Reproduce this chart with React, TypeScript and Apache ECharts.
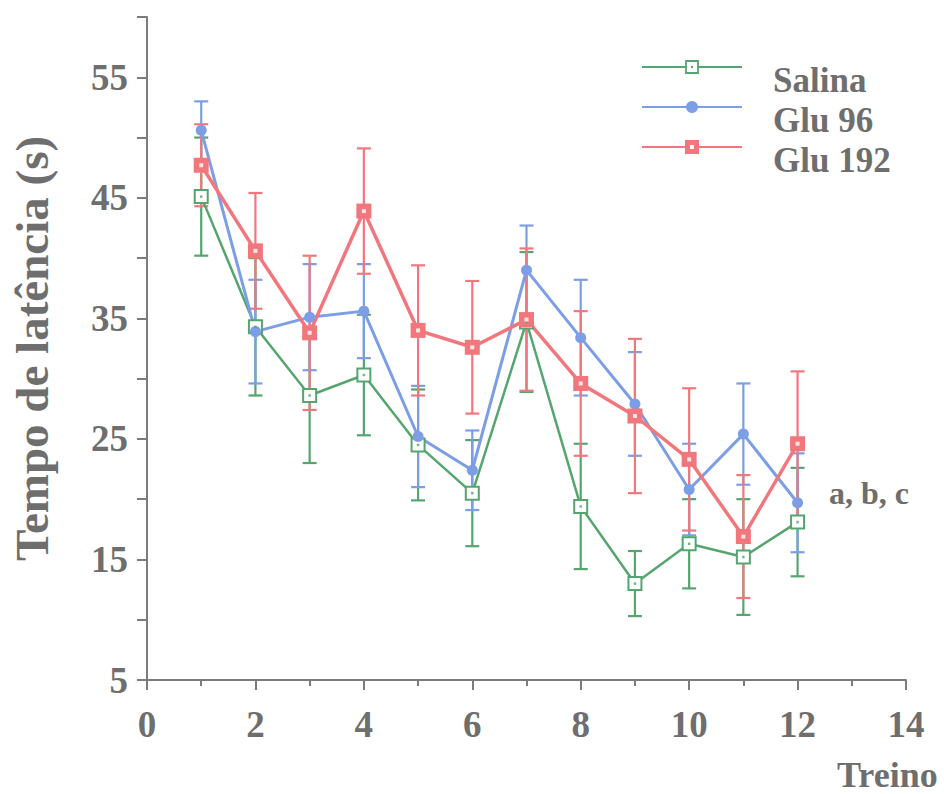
import React, { useEffect, useRef } from "react";
import * as echarts from "echarts";

const trials = [1, 2, 3, 4, 5, 6, 7, 8, 9, 10, 11, 12];
const seriesNames = ["Salina", "Glu 96", "Glu 192"];
const salinaMean = [45.1, 34.3, 28.6, 30.3, 24.5, 20.5, 34.7, 19.4, 13.0, 16.3, 15.2, 18.1];
const salinaErr = [4.9, 5.7, 5.6, 5.0, 4.6, 4.4, 5.8, 5.2, 2.7, 3.7, 4.8, 4.5];
const glu96Mean = [50.6, 33.9, 35.1, 35.6, 25.2, 22.4, 39.0, 33.4, 27.9, 20.8, 25.4, 19.7];
const glu96Err = [2.4, 4.3, 4.4, 3.9, 4.2, 3.3, 3.7, 4.8, 4.3, 3.8, 4.2, 4.1];
const glu192Mean = [47.7, 40.6, 33.8, 43.9, 34.0, 32.6, 34.9, 29.6, 26.9, 23.3, 16.9, 24.6];
const glu192Err = [3.4, 4.8, 6.4, 5.2, 5.4, 5.5, 5.9, 6.0, 6.4, 5.9, 5.1, 6.0];
const xTickLabels = ["0", "2", "4", "6", "8", "10", "12", "14"];
const yTickLabels = ["5", "15", "25", "35", "45", "55"];

const GREEN = "#55a56e";
const BLUE = "#7b9ee6";
const RED = "#f2777d";
const TEXT = "#6e6e6e";
const AXIS = "#7c7c7c";
const FONT = '"Liberation Serif", "Times New Roman", serif';

function errorSeries(name: string, means: number[], errs: number[], color: string) {
  return {
    type: "custom",
    name: name + " err",
    data: trials.map((t, i) => [t, means[i], means[i] - errs[i], means[i] + errs[i]]),
    encode: { x: 0, y: [1, 2, 3] },
    renderItem: (params: any, api: any) => {
      const x = api.value(0);
      const lo = api.coord([x, api.value(2)]);
      const hi = api.coord([x, api.value(3)]);
      const w = 7;
      const style = { stroke: color, lineWidth: 2.2 };
      return {
        type: "group",
        children: [
          { type: "line", shape: { x1: lo[0], y1: lo[1], x2: hi[0], y2: hi[1] }, style },
          { type: "line", shape: { x1: lo[0] - w, y1: lo[1], x2: lo[0] + w, y2: lo[1] }, style },
          { type: "line", shape: { x1: hi[0] - w, y1: hi[1], x2: hi[0] + w, y2: hi[1] }, style },
        ],
      };
    },
    z: 2,
  };
}

function lineSeries(name: string, means: number[], color: string, symbol: string, size: number, lw: number, bw: number) {
  return {
    type: "line",
    name,
    data: trials.map((t, i) => [t, means[i]]),
    symbol,
    symbolSize: size,
    lineStyle: { color, width: lw },
    itemStyle: { color, borderColor: color, borderWidth: bw },
    z: 3,
  };
}

function centerDots(name: string, means: number[], color: string, size: number) {
  return {
    type: "scatter",
    name: name + " dot",
    data: trials.map((t, i) => [t, means[i]]),
    symbol: "rect",
    symbolSize: size,
    itemStyle: { color },
    silent: true,
    z: 4,
  };
}

const legendLineY = [67, 107, 147];
const legendColors = [GREEN, BLUE, RED];

function legendGraphics() {
  const out: any[] = [];
  seriesNames.forEach((name, i) => {
    const y = legendLineY[i];
    const c = legendColors[i];
    out.push({ type: "line", shape: { x1: 642, y1: y, x2: 742, y2: y }, style: { stroke: c, lineWidth: 2.2 } });
    if (i === 0) {
      out.push({ type: "rect", shape: { x: 686, y: y - 6, width: 12, height: 12 }, style: { fill: "#fff", stroke: c, lineWidth: 1.8 } });
      out.push({ type: "rect", shape: { x: 691, y: y - 1, width: 2, height: 2 }, style: { fill: c } });
    } else if (i === 1) {
      out.push({ type: "circle", shape: { cx: 692, cy: y, r: 6 }, style: { fill: c } });
    } else {
      out.push({ type: "rect", shape: { x: 685, y: y - 7, width: 14, height: 14 }, style: { fill: c } });
      out.push({ type: "rect", shape: { x: 690, y: y - 2, width: 4, height: 4 }, style: { fill: "#fff" } });
    }
    out.push({
      type: "text",
      x: 773,
      y: y + 13,
      style: { text: name, fontFamily: FONT, fontWeight: "bold", fontSize: 35, fill: TEXT, verticalAlign: "middle", align: "left" },
    });
  });
  return out;
}

export default function App() {
  const ref = useRef<HTMLDivElement>(null);
  useEffect(() => {
    if (!ref.current) return;
    const chart = echarts.init(ref.current, null, { renderer: "svg" });
    chart.setOption({
      animation: false,
      backgroundColor: "#ffffff",
      grid: { left: 142, right: 38, top: 17, bottom: 114 },
      xAxis: {
        type: "value",
        min: 0,
        max: 14,
        interval: 2,
        axisLine: { show: true, onZero: false, lineStyle: { color: AXIS, width: 2 } },
        axisTick: { show: true, inside: false, length: 10, lineStyle: { color: AXIS, width: 2 } },
        minorTick: { show: true, splitNumber: 2, length: 6, lineStyle: { color: AXIS, width: 2 } },
        splitLine: { show: false },
        axisLabel: {
          margin: 26,
          fontFamily: FONT,
          fontWeight: "bold",
          fontSize: 37,
          color: TEXT,
          formatter: (v: number) => (xTickLabels.includes(String(v)) ? String(v) : ""),
        },
      },
      yAxis: {
        type: "value",
        min: 5,
        max: 60,
        interval: 5,
        name: "Tempo de latência (s)",
        nameLocation: "middle",
        nameGap: 92,
        nameTextStyle: { fontFamily: FONT, fontWeight: "bold", fontSize: 47, color: TEXT },
        axisLine: { show: true, onZero: false, lineStyle: { color: AXIS, width: 2 } },
        axisTick: { show: true, inside: false, length: 10, lineStyle: { color: AXIS, width: 2 } },
        splitLine: { show: false },
        axisLabel: {
          margin: 19,
          fontFamily: FONT,
          fontWeight: "bold",
          fontSize: 37,
          color: TEXT,
          formatter: (v: number) => (yTickLabels.includes(String(v)) ? String(v) : ""),
        },
      },
      graphic: [
        ...legendGraphics(),
        {
          type: "text",
          left: 837,
          top: 757,
          style: { text: "Treino", fontFamily: FONT, fontWeight: "bold", fontSize: 36, fill: TEXT },
        },
        {
          type: "text",
          left: 829,
          top: 477,
          style: { text: "a, b, c", fontFamily: FONT, fontWeight: "bold", fontSize: 32, fill: TEXT },
        },
      ],
      series: [
        errorSeries("Salina", salinaMean, salinaErr, GREEN),
        lineSeries("Salina", salinaMean, GREEN, "emptyRect", 13, 2.5, 1.8),
        centerDots("Salina", salinaMean, GREEN, 2.5),
        errorSeries("Glu 96", glu96Mean, glu96Err, BLUE),
        lineSeries("Glu 96", glu96Mean, BLUE, "circle", 11, 3, 0),
        errorSeries("Glu 192", glu192Mean, glu192Err, RED),
        lineSeries("Glu 192", glu192Mean, RED, "rect", 15, 3.5, 0),
        centerDots("Glu 192", glu192Mean, "#ffffff", 4),
      ],
    });
    return () => chart.dispose();
  }, []);
  return <div ref={ref} style={{ position: "fixed", left: 0, top: 0, width: 944, height: 794 }} />;
}
